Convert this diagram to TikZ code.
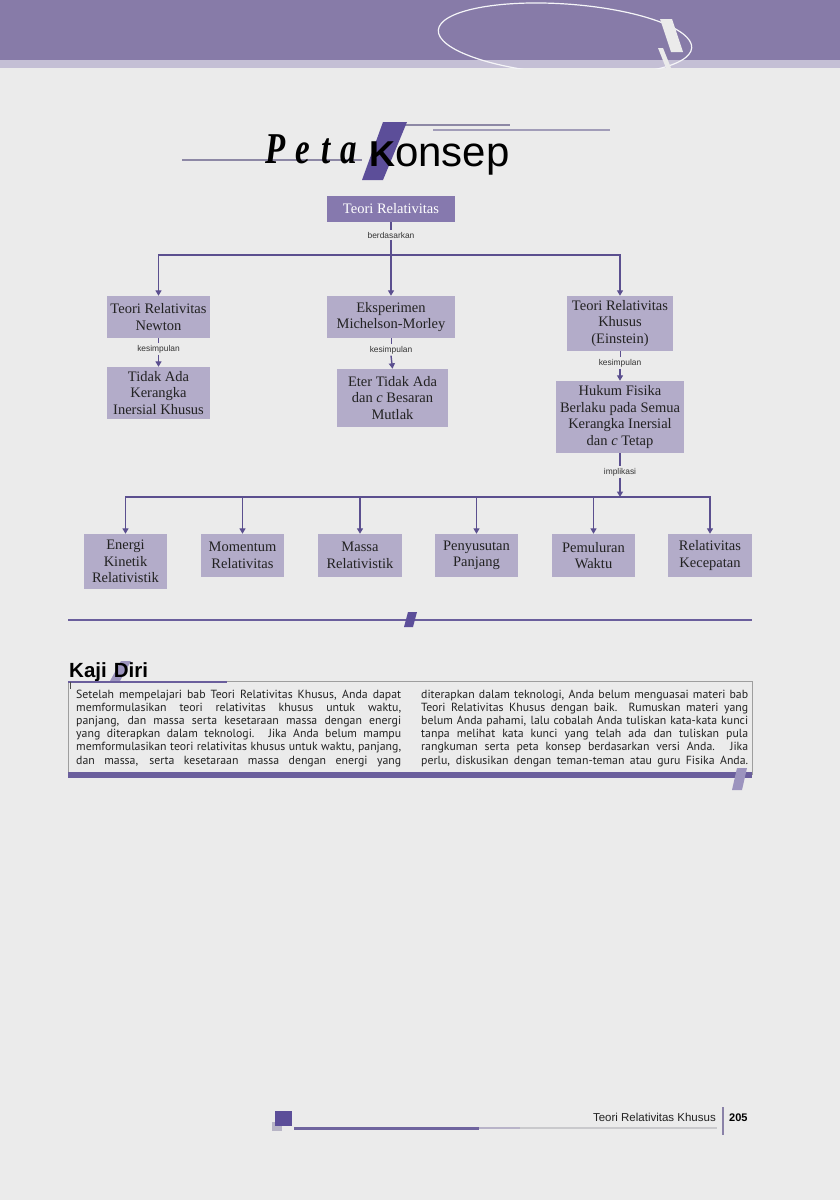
\documentclass[tikz,border=0pt]{standalone}
\usepackage{fontspec}
\usepackage{graphicx}
\setmainfont{Liberation Serif}
\setsansfont{Liberation Sans}
\newfontfamily\ptsans{PT Sans}
\usetikzlibrary{arrows.meta}
\definecolor{bg}{HTML}{EBEBEB}
\definecolor{band}{HTML}{877BA8}
\definecolor{bandlight}{HTML}{C4BFD5}
\definecolor{boxc}{HTML}{B3ACC9}
\definecolor{topc}{HTML}{8679AE}
\definecolor{linec}{HTML}{5B4F8F}
\definecolor{kpurple}{HTML}{5C4E99}
\definecolor{thinl}{HTML}{8D88A5}
\definecolor{thinl2}{HTML}{A19CB8}
\definecolor{sepc}{HTML}{6A5E9C}
\definecolor{slashc}{HTML}{9C94BE}
\definecolor{txt}{HTML}{222222}
\definecolor{fsq}{HTML}{B8B5C6}
\definecolor{fline1}{HTML}{6F649E}
\definecolor{fline2}{HTML}{B8B3C8}
\definecolor{fline3}{HTML}{C9C9CC}
\definecolor{fvert}{HTML}{8A82A8}
\tikzset{
  box/.style={fill=boxc, align=center, inner sep=0pt, text=txt,
    font=\fontsize{14.5}{16.5}\selectfont},
  conn/.style={draw=linec, line width=1.4pt},
  arr/.style={conn, -{Triangle[width=6pt,length=5.5pt]}},
  lab/.style={font=\sffamily\fontsize{8.4}{9}\selectfont, inner sep=1.5pt, text=black!80},
  kaji/.style={font=\ptsans\fontsize{11.8}{13}\selectfont, inner sep=0pt, text=txt, anchor=base west},
}
\begin{document}
\begin{tikzpicture}[x=1pt,y=-1pt]
\useasboundingbox (0,0) rectangle (840,1200);
\fill[bg] (0,0) rectangle (840,1200);
% header band
\fill[band] (0,0) rectangle (840,60);
\fill[bandlight] (0,60) rectangle (840,68);
\begin{scope}
\clip (0,0) rectangle (840,68);
\draw[white!92!band, line width=1.2pt, rotate around={-4:(565,39)}] (565,39) ellipse [x radius=127, y radius=35];
\end{scope}
\fill[bg] (660,19) -- (672,19) -- (683,52) -- (671,52) -- cycle;
\fill[bg] (658,48) -- (663,48) -- (671,68) -- (666,68) -- cycle;

% title
\draw[thinl, line width=1.2pt] (182,160) -- (362,160);
\draw[thinl, line width=1.5pt] (403,125) -- (510,125);
\draw[thinl2, line width=2pt] (433,130) -- (610,130);
\fill[kpurple] (383,122) -- (407,122) -- (383,180) -- (362,180) -- cycle;
\node[anchor=base west, inner sep=0pt, font=\bfseries\itshape\fontsize{44}{44}\selectfont] (peta) at (265,163) {\scalebox{0.75}[1]{P\hspace{14pt}e\hspace{14pt}t\hspace{14pt}a}};
\node[anchor=base west, inner sep=0pt, font=\sffamily] (konsep) at (369,166) {{\fontsize{36}{36}\selectfont\bfseries K}{\fontsize{42}{42}\selectfont onsep}};

% concept map
\node[box, fill=topc, text=white, minimum width=128pt, minimum height=26pt] (top) at (391,209) {Teori Relativitas};
\node[box, minimum width=103pt, minimum height=42pt] (newton) at (158.5,317) {Teori Relativitas\\Newton};
\node[box, minimum width=128pt, minimum height=42pt] (mich) at (391,317) {Eksperimen\\Michelson-Morley};
\node[box, minimum width=106pt, minimum height=55pt] (einst) at (620,323.5) {Teori Relativitas\\Khusus\\(Einstein)};
\node[box, minimum width=103pt, minimum height=52pt] (tidak) at (158.5,393) {Tidak Ada\\Kerangka\\Inersial Khusus};
\node[box, minimum width=111pt, minimum height=58pt] (eter) at (392.5,398) {Eter Tidak Ada\\dan \textit{c} Besaran\\Mutlak};
\node[box, minimum width=128pt, minimum height=72pt] (hukum) at (620,417) {Hukum Fisika\\Berlaku pada Semua\\Kerangka Inersial\\dan \textit{c} Tetap};

\node[box, minimum width=83pt, minimum height=55pt] (energi) at (125.5,561.5) {Energi\\Kinetik\\Relativistik};
\node[box, minimum width=83pt, minimum height=43pt] (momentum) at (242.5,555.5) {Momentum\\Relativitas};
\node[box, minimum width=84pt, minimum height=43pt] (massa) at (360,555.5) {Massa\\Relativistik};
\node[box, minimum width=83pt, minimum height=43pt] (penyusutan) at (476.5,555.5) {Penyusutan\\Panjang};
\node[box, minimum width=83pt, minimum height=43pt] (pemuluran) at (593.5,555.5) {Pemuluran\\Waktu};
\node[box, minimum width=84pt, minimum height=43pt] (relkec) at (710,555.5) {Relativitas\\Kecepatan};

\node[lab] (l1) at (391,235) {berdasarkan};
\node[lab] (l2) at (158.5,349) {kesimpulan};
\node[lab] (l3) at (391,350) {kesimpulan};
\node[lab] (l4) at (620,363) {kesimpulan};
\node[lab] (l5) at (620,472) {implikasi};
\coordinate (j1) at (391,255);
\coordinate (j2) at (620,497);

\draw[conn] (top.south) -- (l1.north);
\draw[conn] (l1.south) -- (j1);
\draw[arr] (j1) -- (mich.north);
\draw[arr] (j1) -| (newton.north);
\draw[arr] (j1) -| (einst.north);
\draw[conn, line width=0.8pt] (newton.south) -- (l2.north);
\draw[arr] (l2.south) -- (tidak.north);
\draw[conn, line width=0.8pt] (mich.south) -- (l3.north);
\draw[arr] (l3.south) -- (eter.north);
\draw[conn, line width=0.8pt] (einst.south) -- (l4.north);
\draw[arr] (l4.south) -- (hukum.north);
\draw[conn] (hukum.south) -- (l5.north);
\draw[arr] (l5.south) -- (j2);
\draw[arr] (j2) -| (energi.north);
\draw[arr] (j2) -| (momentum.north);
\draw[arr] (j2) -| (massa.north);
\draw[arr] (j2) -| (penyusutan.north);
\draw[arr] (j2) -| (pemuluran.north);
\draw[arr] (j2) -| (relkec.north);

% separator
\draw[sepc, line width=1.5pt] (68,620) -- (752,620);
\fill[kpurple] (408,612) -- (417,612) -- (413,627) -- (404,627) -- cycle;

% Kaji Diri
\fill[slashc] (121,661) -- (131,661) -- (120,681) -- (110,681) -- cycle;
\node[anchor=base west, inner sep=0pt, font=\sffamily\bfseries\fontsize{20.5}{21}\selectfont] (kajidiri) at (69,677) {Kaji\hspace{7pt}Diri};
\draw[draw=black!38, line width=0.7pt] (68,681) rectangle (752,774);
\draw[sepc, line width=2pt] (68,682) -- (227,682);
\draw[black!70, line width=1pt] (70.5,682) -- (70.5,689);
\fill[sepc] (68,772) rectangle (752,777.5);
\fill[slashc] (737,768) -- (747,768) -- (742,790) -- (732,790) -- cycle;

\node[kaji] (a1) at (76,698) {\makebox[325pt][s]{Setelah mempelajari bab Teori Relativitas Khusus, Anda dapat}};
\node[kaji] (a2) at (76,711.2) {\makebox[325pt][s]{memformulasikan teori relativitas khusus untuk waktu,}};
\node[kaji] (a3) at (76,724.4) {\makebox[325pt][s]{panjang, dan massa serta kesetaraan massa dengan energi}};
\node[kaji] (a4) at (76,737.6) {\makebox[325pt][s]{yang diterapkan dalam teknologi. Jika Anda belum mampu}};
\node[kaji] (a5) at (76,750.8) {\makebox[325pt][s]{memformulasikan teori relativitas khusus untuk waktu, panjang,}};
\node[kaji] (a6) at (76,764) {\makebox[325pt][s]{dan massa, serta kesetaraan massa dengan energi yang}};
\node[kaji] (b1) at (421,698) {\makebox[327pt][s]{diterapkan dalam teknologi, Anda belum menguasai materi bab}};
\node[kaji] (b2) at (421,711.2) {\makebox[327pt][s]{Teori Relativitas Khusus dengan baik. Rumuskan materi yang}};
\node[kaji] (b3) at (421,724.4) {\makebox[327pt][s]{belum Anda pahami, lalu cobalah Anda tuliskan kata-kata kunci}};
\node[kaji] (b4) at (421,737.6) {\makebox[327pt][s]{tanpa melihat kata kunci yang telah ada dan tuliskan pula}};
\node[kaji] (b5) at (421,750.8) {\makebox[327pt][s]{rangkuman serta peta konsep berdasarkan versi Anda. Jika}};
\node[kaji] (b6) at (421,764) {\makebox[327pt][s]{perlu, diskusikan dengan teman-teman atau guru Fisika Anda.}};

% footer
\fill[fsq] (272,1122) rectangle (282,1131);
\fill[kpurple] (275,1111) rectangle (292,1126);
\draw[fline3, line width=2.5pt] (520,1128) -- (717,1128);
\draw[fline2, line width=2.5pt] (479,1128) -- (520,1128);
\draw[fline1, line width=3pt] (294,1128) -- (479,1128);
\node[anchor=base east, inner sep=0pt, font=\sffamily\fontsize{11.5}{12}\selectfont, text=txt] (foottxt) at (716,1121) {Teori Relativitas Khusus};
\draw[fvert, line width=1.2pt] (723,1107) -- (723,1135);
\node[anchor=base west, inner sep=0pt, font=\sffamily\bfseries\fontsize{11}{12}\selectfont, text=black] (pagenum) at (729,1121) {205};
\end{tikzpicture}
\end{document}
